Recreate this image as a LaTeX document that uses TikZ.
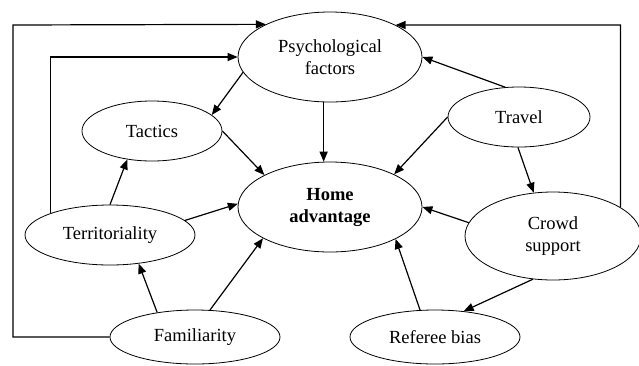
\documentclass[tikz,border=0pt]{standalone}
\usepackage{fontspec}
\setmainfont{Liberation Serif}
\usetikzlibrary{shapes.geometric,arrows.meta}
\begin{document}
\begin{tikzpicture}[x=1pt,y=-1pt,
		factor/.style={draw,ellipse,line width=0.8pt,inner sep=0pt,align=center,font=\fontsize{18.5}{22}\selectfont},
		arr/.style={line width=1.2pt,-{Triangle[length=10pt,width=8pt]}}]
		\useasboundingbox (0,0) rectangle (639,365);
		\node[factor,minimum width=184pt,minimum height=90pt] (psy) at (330,57) {Psychological\\factors};
		\node[factor,minimum width=184pt,minimum height=90pt] (home) at (330,207) {\bfseries Home\\\bfseries advantage};
		\node[factor,minimum width=140pt,minimum height=60pt] (tac) at (152,131) {Tactics};
		\node[factor,minimum width=142pt,minimum height=60pt] (trav) at (519,117) {Travel};
		\node[factor,minimum width=170pt,minimum height=60pt] (terr) at (110,235) {Territoriality};
		\node[factor,minimum width=176pt,minimum height=88pt] (crowd) at (553,236) {Crowd\\support};
		\node[factor,minimum width=170pt,minimum height=54pt] (fam) at (195,337) {Familiarity};
		\node[factor,minimum width=170pt,minimum height=54pt] (ref) at (435,337) {Referee bias};
		\coordinate (outerL) at (13,25);
		\coordinate (outerR) at (620,25);
		\coordinate (innerL) at (51,57);
		\draw[arr] (psy.190) -- (tac.15);
		\draw[arr] (psy.262) -- (home.98);
		\draw[arr] (tac.east) -- (home.154);
		\draw[arr] (trav.115) -- (psy.east);
		\draw[arr] (trav.west) -- (home.27);
		\draw[arr] (trav.268) -- (crowd.114);
		\draw[arr] (crowd.171) -- (home.east);
		\draw[arr] (crowd.245) -- (ref.42);
		\draw[arr] (ref.119) -- (home.334);
		\draw[arr] (terr.11) -- (home.178);
		\draw[arr] (terr.north) -- (tac.229);
		\draw[arr] (fam.147) -- (terr.315);
		\draw[arr] (fam.61) -- (home.205);
		\draw[arr] (fam.west) -| (outerL) -- (psy.153.7);
		\draw[arr] (crowd.23) |- (outerR) -- (psy.26);
		\draw[arr] (terr.160) |- (innerL) -- (psy.west);
	\end{tikzpicture}
\end{document}
